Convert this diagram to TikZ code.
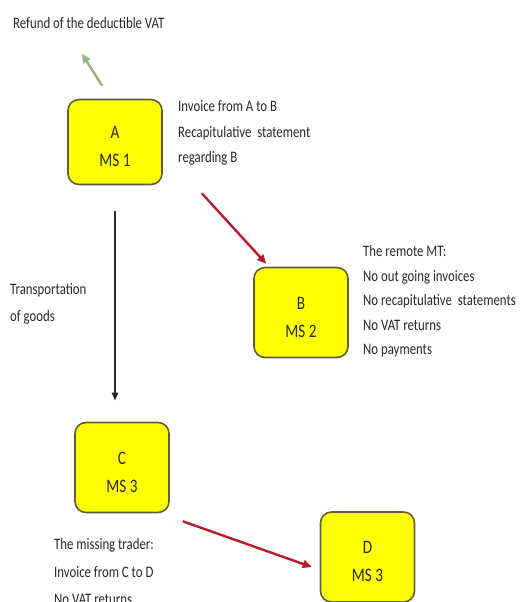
\documentclass[tikz,border=0pt]{standalone}
\usepackage{fontspec}
\setmainfont{Carlito}[FakeStretch=0.8]
\usetikzlibrary{arrows.meta,calc}
\definecolor{boxfill}{RGB}{255,255,0}
\definecolor{boxline}{RGB}{95,95,60}
\definecolor{txt}{RGB}{40,40,40}
\definecolor{redarrow}{RGB}{180,30,45}
\definecolor{greenarrow}{RGB}{150,180,130}
\tikzset{
  party/.style={draw=boxline, line width=1.6pt, fill=boxfill, rounded corners=11pt,
    minimum width=94pt, minimum height=90pt, align=center, text=txt,
    font=\fontsize{19}{28}\selectfont},
  note/.style={anchor=north west, inner sep=0pt, align=left, text=txt,
    font=\fontsize{16}{#1}\selectfont},
  flow/.style={line width=2.4pt, -{Triangle[length=9pt,width=8pt]}},
}
% a taller first line sets the box text a little below the middle
\newcommand{\lowered}{\rule{0pt}{22pt}}
\begin{document}
\begin{tikzpicture}[x=1pt,y=-1pt]
  \useasboundingbox (0,0) rectangle (521,602);

  % trading parties
  \node[party, minimum height=85pt] (A) at (115,142) {\lowered A\\MS 1};
  \node[party] (B) at (301,312.5) {\lowered B\\MS 2};
  \node[party] (C) at (122,467.5) {\lowered C\\MS 3};
  \node[party] (D) at (367.5,557) {\lowered D\\MS 3};

  % explanatory texts (the strut fixes the height of the first line)
  \node[note=25] (refund) at (13,10.5) {\strut Refund of the deductible VAT};
  \node[note=25.5] (invoiceAB) at (178,93.5) {\strut Invoice from A to B\\Recapitulative\ \ statement\\regarding B};
  \node[note=24.5] (remote) at (363,239.5) {\strut The remote MT:\\No out going invoices\\No recapitulative\ \ statements\\No VAT returns\\No payments};
  \node[note=27] (transport) at (10,275.5) {\strut Transportation\\of goods};
  \node[note=27.5] (missing) at (54,530.5) {\strut The missing trader:\\Invoice from C to D\\No VAT returns};

  % connector end points
  \coordinate (refundTail) at ($(A.north)+(-13,-13)$);
  \coordinate (refundHead) at ($(A.north)+(-33,-45)$);
  \coordinate (abTail) at ($(A.south east)+(39,8)$);
  \coordinate (abHead) at ($(B.north west)+(13,-3)$);
  \coordinate (acTail) at ($(A.south)+(0,26)$);
  \coordinate (acHead) at ($(C.north)+(-7,-21)$);
  \coordinate (cdTail) at ($(C.south east)+(13,8)$);
  \coordinate (cdHead) at ($(D.west)+(-8,10)$);

  % flows
  \draw[flow, greenarrow] (refundTail) -- (refundHead);
  \draw[flow, redarrow] (abTail) -- (abHead);
  \draw[flow, black!85, line width=2pt, -{Triangle[length=8pt,width=6pt]}] (acTail) -- (acHead);
  \draw[flow, redarrow] (cdTail) -- (cdHead);
\end{tikzpicture}
\end{document}
